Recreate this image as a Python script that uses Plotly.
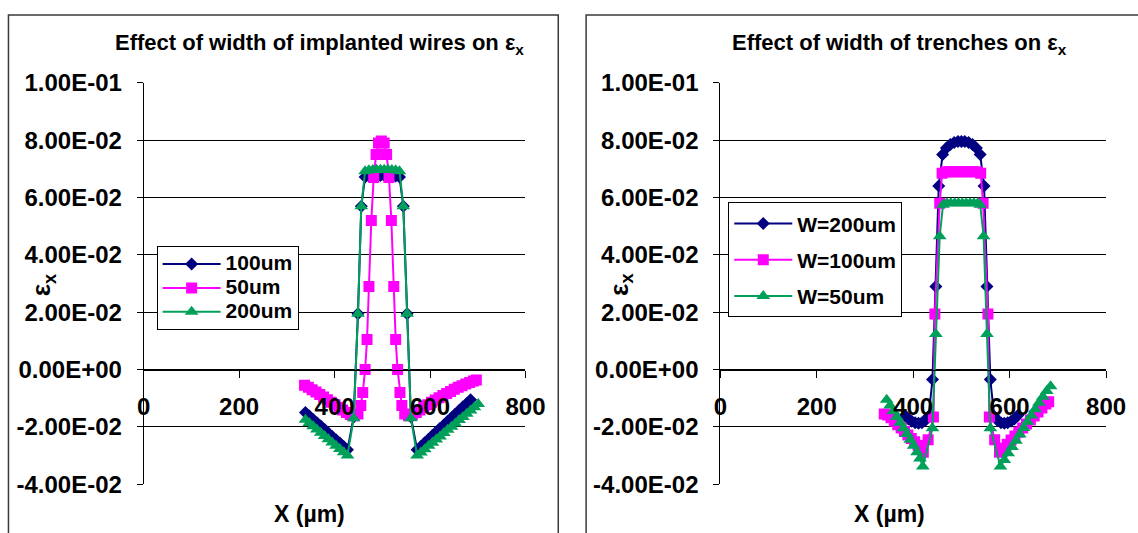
import plotly.graph_objects as go

W, H = 1138, 533

# ---------------- left panel: width of implanted wires ----------------
L_X_100 = [339, 347, 355, 363, 371, 379, 387, 395, 403, 411, 419, 427,
           440, 449, 456, 464, 472, 480, 488, 496, 504, 512, 520, 528, 536,
           544, 552, 560, 573, 581, 589, 597, 605, 613, 621, 629, 637, 645,
           653, 661, 669, 677, 685]
L_Y_100 = [-0.0150, -0.0162, -0.0174, -0.0185, -0.0197, -0.0209, -0.0221,
           -0.0233, -0.0245, -0.0256, -0.0268, -0.0280,
           -0.0165, 0.0195, 0.0570, 0.0672, 0.0675, 0.0676, 0.0677, 0.0677,
           0.0677, 0.0677, 0.0676, 0.0675, 0.0672,
           0.0570, 0.0195, -0.0165, -0.0280, -0.0268, -0.0255, -0.0243,
           -0.0230, -0.0218, -0.0205, -0.0193, -0.0180, -0.0168, -0.0155,
           -0.0143, -0.0130, -0.0118, -0.0105]

L_X_50 = [337, 345, 353, 361, 369, 377, 385, 393, 401, 409, 417, 425, 433,
          441, 449, 455, 459, 464, 468, 472, 477, 482, 487, 492, 498, 504,
          509, 514, 519, 524, 528, 532, 537, 541, 547, 555, 563, 571, 579,
          587, 595, 603, 611, 619, 627, 635, 643, 651, 659, 667, 675, 683,
          691, 697]
L_Y_50 = [-0.0055, -0.0062, -0.0070, -0.0078, -0.0087, -0.0096, -0.0105,
          -0.0114, -0.0123, -0.0132, -0.0141, -0.0150, -0.0157, -0.0161,
          -0.0155, -0.0125, -0.0080, 0.0000, 0.0105, 0.0290, 0.0520,
          0.0670, 0.0750, 0.0790, 0.0797, 0.0790, 0.0750, 0.0670, 0.0520,
          0.0290, 0.0105, 0.0000, -0.0080, -0.0125, -0.0155, -0.0161,
          -0.0157, -0.0150, -0.0141, -0.0132, -0.0123, -0.0114, -0.0106,
          -0.0098, -0.0090, -0.0083, -0.0076, -0.0069, -0.0062, -0.0056,
          -0.0050, -0.0045, -0.0040, -0.0036]

L_X_200 = [339, 347, 355, 363, 371, 379, 387, 395, 403, 411, 419, 427,
           440, 449, 456, 464, 472, 480, 488, 496, 504, 512, 520, 528, 536,
           544, 552, 560, 573, 581, 589, 597, 605, 613, 621, 629, 637, 645,
           653, 661, 669, 677, 685, 693, 701]
L_Y_200 = [-0.0175, -0.0186, -0.0198, -0.0209, -0.0220, -0.0232, -0.0243,
           -0.0254, -0.0266, -0.0277, -0.0288, -0.0300,
           -0.0170, 0.0195, 0.0570, 0.0692, 0.0695, 0.0696, 0.0697, 0.0697,
           0.0697, 0.0697, 0.0696, 0.0695, 0.0692,
           0.0570, 0.0195, -0.0170, -0.0300, -0.0289, -0.0278, -0.0266,
           -0.0255, -0.0244, -0.0233, -0.0221, -0.0210, -0.0199, -0.0188,
           -0.0176, -0.0165, -0.0154, -0.0143, -0.0131, -0.0120]

# ---------------- right panel: width of trenches ----------------
R_X_W200 = [383, 390, 397, 404, 411, 418, 425, 432, 440, 447, 453, 461,
            469, 477, 485, 493, 500, 507, 515, 523, 531, 539, 547, 553,
            560, 568, 575, 582, 589, 596, 603, 610, 617]
R_Y_W200 = [-0.0160, -0.0172, -0.0180, -0.0185, -0.0187, -0.0185, -0.0178,
            -0.0163, -0.0035, 0.0290, 0.0640, 0.0750, 0.0773, 0.0785,
            0.0792, 0.0795, 0.0795, 0.0795, 0.0792, 0.0785, 0.0773, 0.0750,
            0.0640, 0.0290, -0.0035, -0.0163, -0.0178, -0.0185, -0.0187,
            -0.0185, -0.0180, -0.0172, -0.0160]

R_X_W100 = [340, 347, 354, 361, 368, 375, 382, 389, 396, 403, 410, 416,
            421, 431, 442, 445, 455, 460, 468, 476, 484, 492, 500, 508, 516,
            524, 532, 540, 545, 555, 558, 569, 579, 587, 595, 603, 611, 619,
            627, 635, 643, 651, 659, 667, 675, 681]
R_Y_W100 = [-0.0155, -0.0158, -0.0168, -0.0180, -0.0192, -0.0204, -0.0216,
            -0.0228, -0.0240, -0.0252, -0.0264, -0.0276, -0.0288, -0.0245,
            -0.0165, 0.0194, 0.0580, 0.0685, 0.0690, 0.0690, 0.0690, 0.0690,
            0.0690, 0.0690, 0.0690, 0.0690, 0.0690, 0.0685, 0.0580, 0.0194,
            -0.0165, -0.0245, -0.0288, -0.0274, -0.0260, -0.0246, -0.0232,
            -0.0218, -0.0204, -0.0190, -0.0176, -0.0162, -0.0148, -0.0134,
            -0.0120, -0.0112]

R_X_W50 = [345, 352, 359, 366, 373, 380, 387, 394, 401, 408, 414, 420,
           440, 447, 455, 462, 470, 478, 486, 494, 502, 510, 518, 526, 534,
           539, 546, 553, 560, 581, 589, 597, 605, 613, 621, 629, 637, 645,
           653, 661, 669, 677, 685]
R_Y_W50 = [-0.0105, -0.0125, -0.0145, -0.0165, -0.0185, -0.0205, -0.0225,
           -0.0245, -0.0266, -0.0288, -0.0310, -0.0338, -0.0205, 0.0124,
           0.0465, 0.0575, 0.0580, 0.0580, 0.0580, 0.0580, 0.0580, 0.0580,
           0.0580, 0.0580, 0.0580, 0.0575, 0.0465, 0.0124, -0.0205, -0.0338,
           -0.0315, -0.0292, -0.0270, -0.0248, -0.0226, -0.0204, -0.0182,
           -0.0160, -0.0138, -0.0116, -0.0095, -0.0075, -0.0058]

# ---------------- shared axis labels ----------------
Y_TICK_VALS = [-0.04, -0.02, 0.0, 0.02, 0.04, 0.06, 0.08, 0.1]
Y_TICK_TEXT = ["-4.00E-02", "-2.00E-02", "0.00E+00", "2.00E-02",
               "4.00E-02", "6.00E-02", "8.00E-02", "1.00E-01"]
X_TICK_VALS = [0, 200, 400, 600, 800]
X_TICK_TEXT = ["0", "200", "400", "600", "800"]

NAVY = "#000080"
MAGENTA = "#FF00FF"
GREEN = "#00A05A"
FONT = "Liberation Sans"
Y_RANGE = [-0.04, 0.1]

# screen pixel -> paper fraction (page is shown slightly scaled and offset)
AX, BX = 0.982, 5.5
AY, BY = 0.953, 12.9


def px(x):
    return ((x - BX) / AX) / W


def py(y):
    return 1 - ((y - BY) / AY) / H


fig = go.Figure()


def add_series(x, y, name, color, symbol, size, xa, ya, legend):
    fig.add_trace(go.Scatter(
        x=x, y=y, name=name, mode="lines+markers",
        line=dict(color=color, width=2),
        marker=dict(symbol=symbol, size=size, color=color,
                    line=dict(width=0)),
        xaxis=xa, yaxis=ya, legend=legend, legendgroup=name,
    ))


def big(label):
    return "<span style='font-size:21px'>" + label + "</span>"


add_series(L_X_100, L_Y_100, big("100um"), NAVY, "diamond", 10, "x", "y", "legend")
add_series(L_X_50, L_Y_50, big("50um"), MAGENTA, "square", 11, "x", "y", "legend")
add_series(L_X_200, L_Y_200, big("200um"), GREEN, "triangle-up", 12, "x", "y", "legend")

add_series(R_X_W200, R_Y_W200, "W=200um", NAVY, "diamond", 10, "x2", "y2", "legend2")
add_series(R_X_W100, R_Y_W100, "W=100um", MAGENTA, "square", 11, "x2", "y2", "legend2")
add_series(R_X_W50, R_Y_W50, "W=50um", GREEN, "triangle-up", 12, "x2", "y2", "legend2")

y_dom = [py(485), py(82)]
zero_pos = y_dom[0] + (0 - Y_RANGE[0]) / (Y_RANGE[1] - Y_RANGE[0]) * (y_dom[1] - y_dom[0])

tick_font = dict(family=FONT, size=24, color="black", weight="bold")


def x_axis(dom):
    return dict(
        domain=dom, range=[0, 800], anchor="free", position=zero_pos,
        showline=True, linecolor="black", linewidth=1,
        ticks="outside", ticklen=7, tickcolor="black", tickwidth=1,
        tickvals=X_TICK_VALS, ticktext=X_TICK_TEXT, showgrid=False,
        zeroline=False, tickfont=tick_font, ticklabelstandoff=9,
        fixedrange=True,
    )


def y_axis(anchor_x):
    return dict(
        domain=y_dom, range=Y_RANGE, anchor=anchor_x, showline=True,
        linecolor="black", linewidth=1, ticks="outside", ticklen=6,
        tickcolor="black", tickwidth=1, tickvals=Y_TICK_VALS,
        ticktext=Y_TICK_TEXT, showgrid=True, gridcolor="black", gridwidth=1,
        zeroline=False, tickfont=tick_font, ticklabelstandoff=10,
        fixedrange=True,
    )


legend_common = dict(
    bgcolor="white", bordercolor="black", borderwidth=1,
    xanchor="left", yanchor="top", traceorder="grouped", itemwidth=58,
)

title_font = dict(family=FONT, size=22, color="black", weight="bold")
axis_title_font = dict(family=FONT, size=23, color="black", weight="bold")
eps_font = dict(family=FONT, size=26, color="black", weight="bold")

annotations = [
    dict(text="Effect of width of implanted wires on ε<sub>x</sub>",
         x=px(320), y=py(43), xref="paper", yref="paper", showarrow=False,
         xanchor="center", yanchor="middle", font=title_font),
    dict(text="Effect of width of trenches on ε<sub>x</sub>",
         x=px(903), y=py(43), xref="paper", yref="paper", showarrow=False,
         xanchor="center", yanchor="middle", font=title_font),
    dict(text="X (µm)", x=px(310), y=py(515), xref="paper", yref="paper",
         showarrow=False, xanchor="center", yanchor="middle",
         font=axis_title_font),
    dict(text="X (µm)", x=px(893), y=py(515), xref="paper", yref="paper",
         showarrow=False, xanchor="center", yanchor="middle",
         font=axis_title_font),
    dict(text="ε<sub>x</sub>", x=px(41), y=py(285), xref="paper", yref="paper",
         showarrow=False, textangle=-90, xanchor="center", yanchor="middle",
         font=eps_font),
    dict(text="ε<sub>x</sub>", x=px(622), y=py(285), xref="paper", yref="paper",
         showarrow=False, textangle=-90, xanchor="center", yanchor="middle",
         font=eps_font),
]

frame_top = 1 - 1 / H
shapes = [
    dict(type="rect", xref="paper", yref="paper", x0=1.5 / W, x1=px(560),
         y0=-0.05, y1=frame_top, line=dict(color="#3a3a3a", width=1.5),
         layer="below"),
    dict(type="rect", xref="paper", yref="paper", x0=px(588), x1=1.05,
         y0=-0.05, y1=frame_top, line=dict(color="#3a3a3a", width=1.5),
         layer="below"),
]

fig.update_layout(
    width=W, height=H, margin=dict(l=0, r=0, t=0, b=0),
    paper_bgcolor="white", plot_bgcolor="white",
    font=dict(family=FONT, color="black"),
    xaxis=x_axis([px(143), px(527)]), yaxis=y_axis("x"),
    xaxis2=x_axis([px(723), px(1111)]), yaxis2=y_axis("x2"),
    legend=dict(x=px(156), y=py(246), tracegroupgap=0,
                font=dict(family=FONT, size=16, color="black", weight="bold"),
                **legend_common),
    legend2=dict(x=px(731), y=py(202), tracegroupgap=6,
                 font=dict(family=FONT, size=21, color="black", weight="bold"),
                 **legend_common),
    annotations=annotations, shapes=shapes, showlegend=True,
)

fig.write_html("out.html")
